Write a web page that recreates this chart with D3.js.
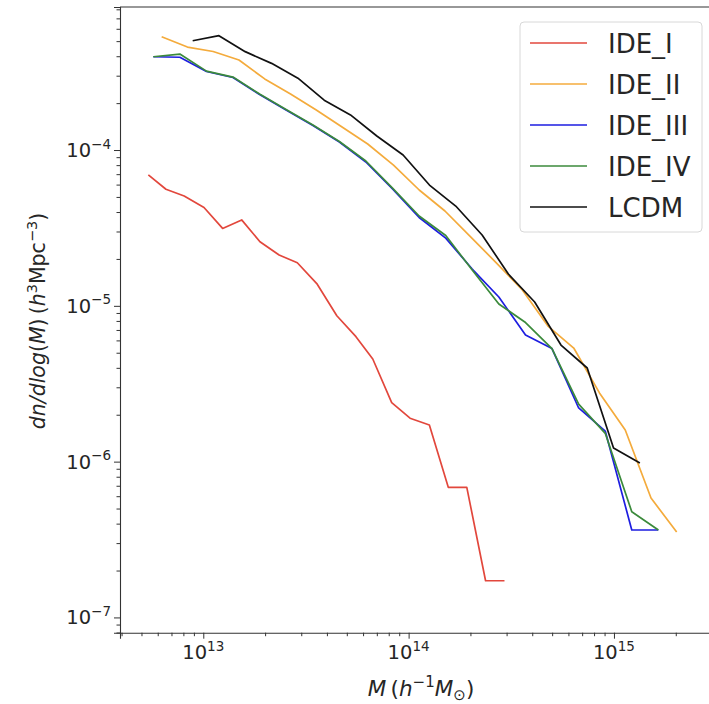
<!DOCTYPE html>
<html>
<head>
<meta charset="utf-8">
<script src="https://cdn.jsdelivr.net/npm/d3@7"></script>
<style>
  body { margin: 0; background: #fff; }
  svg { display: block; }
  text { font-family: "DejaVu Sans", sans-serif; fill: #262626; }
</style>
</head>
<body>
<svg id="chart" width="709" height="704"></svg>
<script>
// Halo mass function dn/dlog(M) for each cosmology (M in h^-1 Msun, dn in h^3 Mpc^-3)
const seriesNames = ["IDE_I", "IDE_II", "IDE_III", "IDE_IV", "LCDM"];
const seriesColors = ["#e2473c", "#f4ab3c", "#1d1de0", "#3b8a3b", "#111111"];

const massIDE_I = [5.40e12, 6.58e12, 8.07e12, 1.008e13, 1.242e13, 1.538e13, 1.888e13, 2.34e13, 2.87e13, 3.57e13,
                   4.47e13, 5.54e13, 6.69e13, 8.27e13, 1.016e14, 1.262e14, 1.56e14, 1.92e14, 2.37e14, 2.93e14];
const dnIDE_I   = [6.92e-5, 5.60e-5, 5.07e-5, 4.28e-5, 3.14e-5, 3.56e-5, 2.58e-5, 2.12e-5, 1.89e-5, 1.39e-5,
                   8.63e-6, 6.34e-6, 4.56e-6, 2.39e-6, 1.90e-6, 1.72e-6, 6.84e-7, 6.84e-7, 1.72e-7, 1.72e-7];

const massIDE_II = [6.27e12, 8.37e12, 1.117e13, 1.492e13, 1.991e13, 2.66e13, 3.55e13, 4.74e13, 6.32e13, 8.44e13,
                    1.126e14, 1.503e14, 2.01e14, 2.68e14, 3.58e14, 4.77e14, 6.37e14, 8.50e14, 1.135e15, 1.515e15, 2.02e15];
const dnIDE_II   = [5.34e-4, 4.58e-4, 4.29e-4, 3.78e-4, 2.86e-4, 2.29e-4, 1.806e-4, 1.405e-4, 1.093e-4, 8.01e-5,
                    5.54e-5, 4.06e-5, 2.76e-5, 1.882e-5, 1.263e-5, 7.42e-6, 5.36e-6, 2.76e-6, 1.595e-6, 5.84e-7, 3.53e-7];

const massIDE_III = [5.71e12, 7.69e12, 1.036e13, 1.395e13, 1.880e13, 2.53e13, 3.42e13, 4.60e13, 6.19e13, 8.35e13,
                     1.125e14, 1.516e14, 2.04e14, 2.75e14, 3.71e14, 4.99e14, 6.73e14, 9.07e14, 1.221e15, 1.645e15];
const dnIDE_III   = [3.97e-4, 3.94e-4, 3.19e-4, 2.92e-4, 2.27e-4, 1.806e-4, 1.437e-4, 1.126e-4, 8.38e-5, 5.62e-5,
                     3.69e-5, 2.72e-5, 1.722e-5, 1.139e-5, 6.50e-6, 5.32e-6, 2.21e-6, 1.572e-6, 3.64e-7, 3.64e-7];

const massIDE_IV = [5.71e12, 7.69e12, 1.036e13, 1.395e13, 1.880e13, 2.53e13, 3.42e13, 4.60e13, 6.19e13, 8.35e13,
                    1.125e14, 1.516e14, 2.04e14, 2.75e14, 3.71e14, 4.99e14, 6.73e14, 9.07e14, 1.221e15, 1.645e15];
const dnIDE_IV   = [3.97e-4, 4.13e-4, 3.21e-4, 2.94e-4, 2.29e-4, 1.82e-4, 1.447e-4, 1.134e-4, 8.50e-5, 5.70e-5,
                    3.77e-5, 2.83e-5, 1.697e-5, 1.027e-5, 7.81e-6, 5.32e-6, 2.34e-6, 1.519e-6, 4.77e-7, 3.64e-7];

const massLCDM = [8.88e12, 1.192e13, 1.60e13, 2.15e13, 2.89e13, 3.88e13, 5.21e13, 7.00e13, 9.40e13, 1.263e14,
                  1.696e14, 2.28e14, 3.06e14, 4.11e14, 5.52e14, 7.41e14, 9.95e14, 1.337e15];
const dnLCDM   = [5.03e-4, 5.42e-4, 4.28e-4, 3.60e-4, 2.89e-4, 2.09e-4, 1.68e-4, 1.23e-4, 9.29e-5, 5.96e-5,
                   4.37e-5, 2.85e-5, 1.60e-5, 1.058e-5, 5.60e-6, 3.99e-6, 1.223e-6, 9.79e-7];

const xMajorTicks = [1e13, 1e14, 1e15];
const xTickExponents = ["13", "14", "15"];
const yMajorTicks = [1e-7, 1e-6, 1e-5, 1e-4];
const yTickExponents = ["\u22127", "\u22126", "\u22125", "\u22124"];

const seriesMass = [massIDE_I, massIDE_II, massIDE_III, massIDE_IV, massLCDM];
const seriesDn = [dnIDE_I, dnIDE_II, dnIDE_III, dnIDE_IV, dnLCDM];

// ---- layout ----
const plot = { left: 120, right: 716, top: 7, bottom: 632.7 };
const svg = d3.select("#chart");

const x = d3.scaleLog().domain([3.93e12, 3.14e15]).range([plot.left, plot.right]);
const y = d3.scaleLog().domain([7.98e-8, 8.28e-4]).range([plot.bottom, plot.top]);

// minor tick positions: 2..9 x each decade inside the domain
function minorTicks(scale) {
  const [a, b] = scale.domain();
  const out = [];
  for (let e = Math.floor(Math.log10(a)); e <= Math.ceil(Math.log10(b)); e++) {
    for (let m = 2; m <= 9; m++) {
      const v = m * Math.pow(10, e);
      if (v >= a && v <= b) out.push(v);
    }
  }
  return out;
}

const axisColor = "#333";

// data lines
const line = d3.line().x(d => x(d[0])).y(d => y(d[1]));
const lines = svg.append("g").attr("class", "lines");
seriesNames.forEach((name, i) => {
  const pts = seriesMass[i].map((m, j) => [m, seriesDn[i][j]]);
  lines.append("path")
    .datum(pts)
    .attr("d", line)
    .attr("fill", "none")
    .attr("stroke", seriesColors[i])
    .attr("stroke-width", 1.7)
    .attr("stroke-linejoin", "round");
});

// x axis
const xAxisG = svg.append("g").attr("transform", `translate(0,${plot.bottom})`);
xAxisG.call(d3.axisBottom(x).tickValues(xMajorTicks).tickSize(6).tickFormat(""));
xAxisG.append("g").call(d3.axisBottom(x).tickValues(minorTicks(x)).tickSize(3.5).tickFormat(""));
xAxisG.selectAll(".domain").attr("stroke", axisColor).attr("stroke-width", 1.1);
xAxisG.selectAll(".tick line").attr("stroke", axisColor).attr("stroke-width", 1);
xAxisG.selectAll("g > g > .domain").remove();

const xLabels = svg.append("g");
xMajorTicks.forEach((t, i) => {
  const tx = xLabels.append("text")
    .attr("x", x(t)).attr("y", 659)
    .attr("text-anchor", "middle")
    .style("font-size", "19.5px");
  tx.append("tspan").text("10");
  tx.append("tspan").attr("dy", -8.5).style("font-size", "13.5px").text(xTickExponents[i]);
});

// y axis
const yAxisG = svg.append("g").attr("transform", `translate(${plot.left},0)`);
yAxisG.call(d3.axisLeft(y).tickValues(yMajorTicks).tickSize(6).tickFormat(""));
yAxisG.append("g").call(d3.axisLeft(y).tickValues(minorTicks(y)).tickSize(3.5).tickFormat(""));
yAxisG.selectAll(".domain").attr("stroke", axisColor).attr("stroke-width", 1.1);
yAxisG.selectAll(".tick line").attr("stroke", axisColor).attr("stroke-width", 1);
yAxisG.selectAll("g > g > .domain").remove();

const yLabels = svg.append("g");
yMajorTicks.forEach((t, i) => {
  const tx = yLabels.append("text")
    .attr("x", 111).attr("y", y(t) + 7)
    .attr("text-anchor", "end")
    .style("font-size", "19.5px");
  tx.append("tspan").text("10");
  tx.append("tspan").attr("dy", -8.5).style("font-size", "13.5px").text(yTickExponents[i]);
});

// frame lines on the top and right
svg.append("line")
  .attr("x1", plot.left).attr("x2", plot.right)
  .attr("y1", plot.top).attr("y2", plot.top)
  .attr("stroke", axisColor).attr("stroke-width", 1.1);
svg.append("line")
  .attr("x1", plot.right).attr("x2", plot.right)
  .attr("y1", plot.top).attr("y2", plot.bottom)
  .attr("stroke", axisColor).attr("stroke-width", 1.1);

// axis titles
const xTitle = svg.append("text")
  .attr("x", 421).attr("y", 696)
  .attr("text-anchor", "middle")
  .style("font-size", "21.5px");
xTitle.append("tspan").style("font-style", "italic").text("M");
xTitle.append("tspan").text("\u2009(");
xTitle.append("tspan").style("font-style", "italic").text("h");
xTitle.append("tspan").attr("dy", -9).style("font-size", "15px").text("\u22121");
xTitle.append("tspan").attr("dy", 9).style("font-style", "italic").text("M");
xTitle.append("tspan").attr("dy", 4).style("font-size", "15px").text("\u2299");
xTitle.append("tspan").attr("dy", -4).text(")");

const yTitle = svg.append("text")
  .attr("transform", "translate(45,321) rotate(-90)")
  .attr("text-anchor", "middle")
  .style("font-size", "20.5px");
yTitle.append("tspan").style("font-style", "italic").text("dn/dlog");
yTitle.append("tspan").text("(");
yTitle.append("tspan").style("font-style", "italic").text("M");
yTitle.append("tspan").text(")\u2009(");
yTitle.append("tspan").style("font-style", "italic").text("h");
yTitle.append("tspan").attr("dy", -8.5).style("font-size", "14.5px").text("3");
yTitle.append("tspan").attr("dy", 8.5).text("Mpc");
yTitle.append("tspan").attr("dy", -8.5).style("font-size", "14.5px").text("\u22123");
yTitle.append("tspan").attr("dy", 8.5).text(")");

// legend
const legend = svg.append("g");
legend.append("rect")
  .attr("x", 520).attr("y", 22).attr("width", 182).attr("height", 210)
  .attr("rx", 4).attr("ry", 4)
  .attr("fill", "#fff").attr("fill-opacity", 0.8)
  .attr("stroke", "#d8d8d8").attr("stroke-width", 1);
seriesNames.forEach((name, i) => {
  const ly = 43 + i * 41;
  legend.append("line")
    .attr("x1", 530).attr("x2", 587)
    .attr("y1", ly).attr("y2", ly)
    .attr("stroke", seriesColors[i]).attr("stroke-width", 1.7);
  legend.append("text")
    .attr("x", 608).attr("y", ly + 9.5)
    .style("font-size", "26px")
    .text(name);
});
</script>
</body>
</html>
